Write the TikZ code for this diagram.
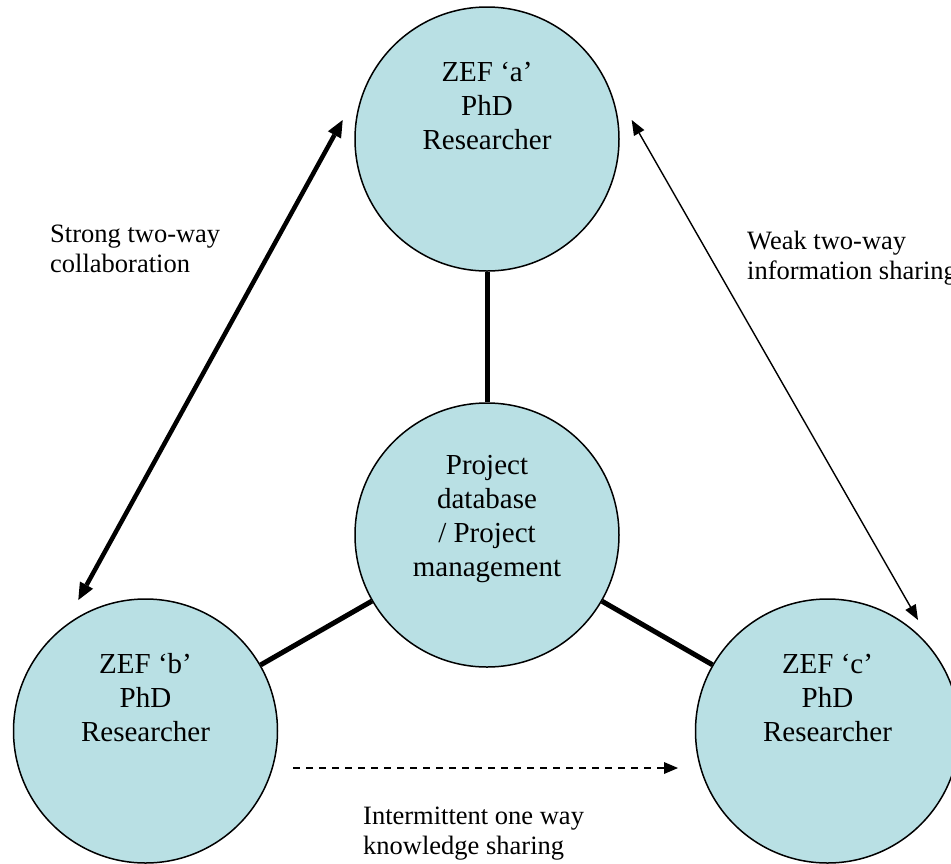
\documentclass[tikz,border=0pt]{standalone}
\usepackage{fontspec}
\setmainfont{Liberation Serif}
\usetikzlibrary{arrows.meta}
\definecolor{bubblefill}{RGB}{185,224,228}
\begin{document}
\begin{tikzpicture}[x=1pt,y=-1pt,
  bubble/.style={circle,draw=black,line width=1.5pt,fill=bubblefill,minimum size=264pt,inner sep=0pt},
  ctext/.style={align=center,font=\fontsize{29}{34}\selectfont,inner sep=0pt},
  lbl/.style={align=left,font=\fontsize{26.5}{30}\selectfont,inner sep=0pt,anchor=base west},
  link/.style={line width=5pt},
  strongarrow/.style={line width=4.5pt,{Triangle[length=17pt,width=15pt,line width=0pt]}-{Triangle[length=17pt,width=15pt,line width=0pt]}},
  weakarrow/.style={line width=1.4pt,{Triangle[length=15pt,width=12pt,line width=0pt]}-{Triangle[length=15pt,width=12pt,line width=0pt]}},
  onewayarrow/.style={line width=1.4pt,dash pattern=on 7pt off 6pt,-{Triangle[length=14pt,width=12pt,line width=0pt]}}
]
\useasboundingbox (0,0) rectangle (951,863);

% circles
\node[bubble] (a) at (487,139) {};
\node[bubble] (m) at (487,535) {};
\node[bubble] (b) at (145.5,731) {};
\node[bubble] (c) at (827.5,731) {};

% texts inside circles
\node[ctext] (ta) at (487,106) {ZEF ‘a’\\PhD\\Researcher};
\node[ctext] (tm) at (487,519) {Project\\database\\/ Project\\management};
\node[ctext] (tb) at (145.5,698) {ZEF ‘b’\\PhD\\Researcher};
\node[ctext] (tc) at (827.5,698) {ZEF ‘c’\\PhD\\Researcher};

% thick links to the project database
\draw[link] (a) -- (m);
\draw[link] (m) -- (b);
\draw[link] (m) -- (c);

% arrow end points
\coordinate (s1) at (342.7,120);
\coordinate (s2) at (78.3,600);
\coordinate (w1) at (631.7,120);
\coordinate (w2) at (918,620);
\coordinate (d1) at (293,768);
\coordinate (d2) at (678,768);

\draw[strongarrow] (s2) -- (s1);
\draw[weakarrow] (w1) -- (w2);
\draw[onewayarrow] (d1) -- (d2);

% labels (base anchor = baseline of the last line)
\node[lbl] (ls) at (50,272) {Strong two-way\\collaboration};
\node[lbl] (lw) at (747,279) {Weak two-way\\information sharing};
\node[lbl] (li) at (363,854) {Intermittent one way\\knowledge sharing};
\end{tikzpicture}
\end{document}
